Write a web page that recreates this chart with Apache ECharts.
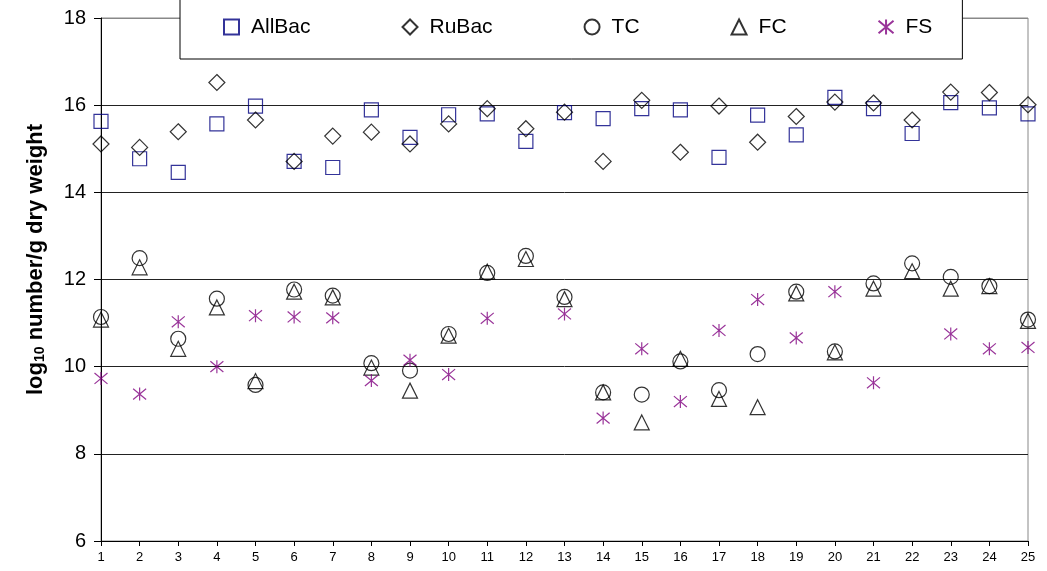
<!DOCTYPE html>
<html>
<head>
<meta charset="utf-8">
<script src="https://cdn.jsdelivr.net/npm/echarts@6/dist/echarts.min.js"></script>
<style>
  html, body { margin: 0; padding: 0; background: #fff; }
  #chart { width: 1047px; height: 571px; }
</style>
</head>
<body>
<div id="chart"></div>
<script>
// samples 1..25
var samples = [];
for (var i = 1; i <= 25; i++) samples.push(String(i));

var allBac = [15.63, 14.77, 14.46, 15.57, 15.98, 14.71, 14.57, 15.89, 15.26, 15.78, 15.80, 15.17, 15.83,
              15.69, 15.92, 15.89, 14.80, 15.77, 15.32, 16.18, 15.92, 15.35, 16.06, 15.94, 15.80];
var ruBac = [15.11, 15.03, 15.39, 16.52, 15.66, 14.71, 15.29, 15.38, 15.11, 15.57, 15.92, 15.46, 15.84,
             14.71, 16.11, 14.92, 15.98, 15.15, 15.74, 16.07, 16.05, 15.66, 16.30, 16.29, 16.01];
var tc = [11.14, 12.49, 10.64, 11.56, 9.58, 11.77, 11.63, 10.08, 9.91, 10.75, 12.15, 12.54, 11.60,
          9.41, 9.36, 10.12, 9.46, 10.29, 11.72, 10.35, 11.91, 12.37, 12.06, 11.85, 11.08];
var fc = [11.08, 12.28, 10.41, 11.36, 9.67, 11.72, 11.59, 9.98, 9.45, 10.71, 12.18, 12.47, 11.55,
          9.41, 8.72, 10.18, 9.26, 9.07, 11.68, 10.33, 11.79, 12.19, 11.79, 11.85, 11.05];
var fs = [9.73, 9.37, 11.03, 10.00, 11.17, 11.14, 11.12, 9.68, 10.15, 9.82, 11.11, null, 11.21,
          8.82, 10.41, 9.20, 10.83, 11.54, 10.66, 11.72, 9.63, null, 10.75, 10.41, 10.44];

var starPath = 'path://M0,1L12,11M12,1L0,11M6,0L6,12';

function hollow(name, data, symbol, size, color) {
    return {
        name: name,
        type: 'scatter',
        data: data,
        symbol: symbol,
        symbolSize: size,
        itemStyle: { color: 'rgba(0,0,0,0)', borderColor: color, borderWidth: 1.2 },
        emphasis: { disabled: true }
    };
}

var chart = echarts.init(document.getElementById('chart'));
chart.setOption({
    animation: false,
    textStyle: { fontFamily: 'Liberation Sans, Arial, sans-serif' },
    grid: {
        left: 101, right: 19, top: 18, bottom: 30,
        show: true, borderColor: '#888', borderWidth: 1
    },
    legend: {
        left: 180, top: -10,
        padding: [26, 30, 21, 43],
        itemGap: 91,
        itemWidth: 15, itemHeight: 15,
        backgroundColor: '#fff',
        borderColor: '#000', borderWidth: 1,
        textStyle: { fontSize: 21, color: '#000', lineHeight: 22, padding: [0, 0, 0, 7] },
        data: ['AllBac', 'RuBac', 'TC', 'FC', 'FS']
    },
    xAxis: {
        type: 'category',
        data: samples,
        boundaryGap: false,
        axisLine: { lineStyle: { color: '#000', width: 1 } },
        axisTick: { length: 5, lineStyle: { color: '#000' } },
        axisLabel: { fontSize: 13, color: '#000', margin: 10 },
        splitLine: { show: false }
    },
    yAxis: {
        type: 'value',
        min: 6, max: 18, interval: 2,
        name: '{b|log}{s|10}{b| number/g dry weight}',
        nameLocation: 'middle',
        nameGap: 54,
        nameTextStyle: {
            padding: [0, 0, 0, 40],
            rich: {
                b: { fontSize: 22, fontWeight: 'bold', color: '#000' },
                s: { fontSize: 14, fontWeight: 'bold', color: '#000', verticalAlign: 'bottom', padding: [8, 0, 0, 0] }
            }
        },
        axisLine: { show: true, lineStyle: { color: '#000', width: 1 } },
        axisTick: { show: true, length: 7, lineStyle: { color: '#000' } },
        axisLabel: { fontSize: 20, color: '#000', margin: 15 },
        splitLine: { lineStyle: { color: ['#000', '#222', '#222', '#222', '#222', '#222', '#888'], width: 1 } }
    },
    series: [
        hollow('AllBac', allBac, 'rect', 14, '#000080'),
        hollow('RuBac', ruBac, 'diamond', [16, 16], '#000'),
        hollow('TC', tc, 'circle', 15, '#000'),
        hollow('FC', fc, 'triangle', 15, '#000'),
        hollow('FS', fs, starPath, [13, 13], '#800080')
    ]
});
</script>
</body>
</html>
